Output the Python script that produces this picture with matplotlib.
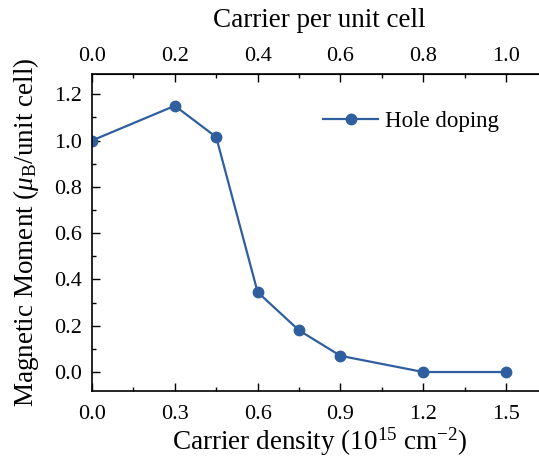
import matplotlib.pyplot as plt
from matplotlib.ticker import MultipleLocator, FixedLocator

plt.rcParams["font.family"] = "Liberation Serif"
plt.rcParams["mathtext.fontset"] = "custom"
plt.rcParams["mathtext.rm"] = "Liberation Serif"
plt.rcParams["mathtext.it"] = "Liberation Serif:italic"

# carrier density (10^15 cm^-2) and magnetic moment (muB / unit cell)
density = [0.0, 0.3, 0.45, 0.6, 0.75, 0.9, 1.2, 1.5]
moment = [1.0, 1.15, 1.015, 0.345, 0.18, 0.07, 0.0, 0.0]
densityPerCell = 1.5  # density that equals one carrier per unit cell
topTicks = [0.0, 0.2, 0.4, 0.6, 0.8, 1.0]
topMinor = [0.1, 0.3, 0.5, 0.7, 0.9, 1.1]

lineColor = "#2f5f9e"

fig = plt.figure(figsize=(5.39, 4.57), dpi=100)
ax = fig.add_axes([0.1707, 0.1444, 0.845, 0.694])

ax.plot(density, moment, color=lineColor, lw=1.6, marker="o", ms=7.5,
        label="Hole doping")

ax.set_xlim(0, 1.65)
ax.set_ylim(-0.082, 1.288)
ax.xaxis.set_major_locator(MultipleLocator(0.3))
ax.xaxis.set_minor_locator(MultipleLocator(0.15))
ax.yaxis.set_major_locator(MultipleLocator(0.2))
ax.yaxis.set_minor_locator(MultipleLocator(0.1))
ax.tick_params(which="both", direction="in", labelsize=16, width=1.0)
ax.tick_params(which="major", length=6)
ax.tick_params(which="minor", length=3)
ax.tick_params(axis="x", pad=10)
ax.tick_params(axis="y", pad=7)
ax.xaxis.set_major_formatter(lambda v, p: "%.1f" % v)
ax.yaxis.set_major_formatter(lambda v, p: "%.1f" % v)
for s in ax.spines.values():
    s.set_linewidth(1.2)

ax.set_xlabel("Carrier density (10$^{15}$ cm$^{-2}$)", fontsize=19.5, labelpad=1)
ax.set_ylabel("Magnetic Moment ($\\mu_{\\mathrm{B}}$/unit cell)", fontsize=19.5,
              labelpad=10)

top = ax.secondary_xaxis("top", functions=(lambda x: x / densityPerCell,
                                           lambda x: x * densityPerCell))
top.xaxis.set_major_locator(FixedLocator(topTicks))
top.xaxis.set_minor_locator(FixedLocator(topMinor))
top.tick_params(which="both", direction="in", labelsize=16, width=1.0, pad=6)
top.tick_params(which="major", length=6)
top.tick_params(which="minor", length=3)
top.xaxis.set_major_formatter(lambda v, p: "%.1f" % v)
top.set_xlabel("Carrier per unit cell", fontsize=19.5, labelpad=14)

ax.legend(loc="center left", bbox_to_anchor=(0.462, 0.85), frameon=False,
          fontsize=16.5, handlelength=2.4, handletextpad=0.3)

fig.savefig("out.png", dpi=100)
